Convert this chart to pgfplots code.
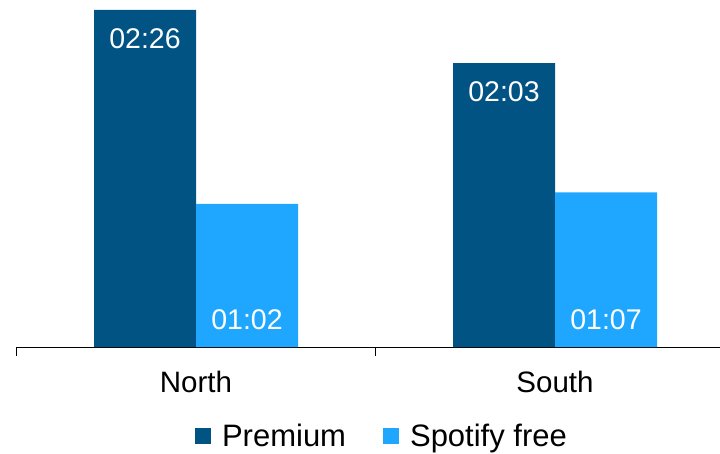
\documentclass[border=0pt]{standalone}
\usepackage{pgfplots}
\pgfplotsset{compat=1.18}
\usepackage{fontspec}
\setmainfont{Liberation Sans}
\definecolor{prem}{HTML}{005383}
\definecolor{free}{HTML}{1FA7FF}
\newcommand{\bigf}{\fontsize{29.5}{35}\selectfont}
\newcommand{\legf}{\fontsize{31}{36}\selectfont}
\newcommand{\labf}{\fontsize{28.5}{34}\selectfont}
\begin{document}
\begin{tikzpicture}
\begin{axis}[
  scale only axis, width=703.5pt, height=347pt,
  at={(0,0)}, anchor=south west,
  xmin=-0.5, xmax=1.4596, ymin=0, ymax=150.3,
  enlargelimits=false,
  ybar,
  axis x line*=bottom, axis y line=none,
  x axis line style={-, line width=0.8pt, black},
  xtick={0,1}, xticklabels={North,South},
  major tick length=0pt,
  extra x ticks={-0.5,0.5}, extra x tick labels={},
  extra x tick style={major tick length=9pt, tick align=outside, tick style={black, line width=0.8pt}},
  xticklabel style={font=\bigf, inner sep=0pt, anchor=base, yshift=-45pt},
  legend style={draw=none, fill=none, font=\legf, legend columns=2,
    /tikz/every odd column/.append style={column sep=9pt},
    /tikz/every even column/.append style={column sep=35pt},
    inner sep=0pt,
    at={(axis description cs:0.5195,-0.2575)}, anchor=center},
  legend image code/.code={\fill[#1] (0pt,-8pt) rectangle (16pt,8pt);},
]
\addplot[bar width=102pt, bar shift=-51pt, fill=prem, draw=none,
  nodes near coords, point meta=explicit symbolic,
  nodes near coords style={white, font=\labf, anchor=north, inner sep=0pt, yshift=-18pt}]
  coordinates {(0,146)[02:26] (1,123)[02:03]};
\addplot[bar width=102pt, bar shift=51pt, fill=free, draw=none]
  coordinates {(0,62) (1,67)};
\addplot[bar width=102pt, bar shift=51pt, draw=none, fill=none, forget plot,
  nodes near coords, point meta=explicit symbolic,
  nodes near coords style={white, font=\labf, anchor=south, inner sep=0pt, yshift=17pt}]
  coordinates {(0,0.001)[01:02] (1,0.001)[01:07]};
\legend{Premium, Spotify free}
\end{axis}
\pgfresetboundingbox
\path[use as bounding box] (-16.5pt,-106pt) rectangle (703.5pt,347pt);
\end{tikzpicture}
\end{document}
